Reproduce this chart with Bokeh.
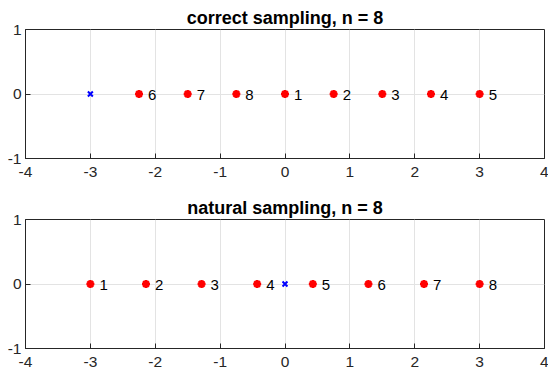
from bokeh.plotting import figure
from bokeh.models import ColumnDataSource, FixedTicker, Range1d
from bokeh.layouts import column
from bokeh.core.properties import value
from bokeh.embed import file_html
from bokeh.resources import INLINE

# ---- data ----
correct_title = "correct sampling, n = 8"
correct_x = [0.0, 0.75, 1.5, 2.25, 3.0, -2.25, -1.5, -0.75]
correct_y = [0, 0, 0, 0, 0, 0, 0, 0]
correct_labels = ["1", "2", "3", "4", "5", "6", "7", "8"]
correct_mark_x = [-3.0]
correct_mark_y = [0]

natural_title = "natural sampling, n = 8"
natural_x = [-3.0, -2.143, -1.286, -0.429, 0.429, 1.286, 2.143, 3.0]
natural_y = [0, 0, 0, 0, 0, 0, 0, 0]
natural_labels = ["1", "2", "3", "4", "5", "6", "7", "8"]
natural_mark_x = [0.0]
natural_mark_y = [0]

x_ticks = [-4, -3, -2, -1, 0, 1, 2, 3, 4]
x_tick_labels = ["-4", "-3", "-2", "-1", "0", "1", "2", "3", "4"]
y_ticks = [-1, 0, 1]
y_tick_labels = ["-1", "0", "1"]

FONT = "Liberation Sans"
AXC = "#262626"
GRID = "#e3e3e3"


def style_axis(ax):
    ax.axis_line_color = AXC
    ax.axis_line_width = 1
    ax.major_tick_line_color = AXC
    ax.major_tick_in = 5
    ax.major_tick_out = 0
    ax.minor_tick_line_color = None
    ax.major_label_text_font = FONT
    ax.major_label_text_color = AXC
    ax.major_label_text_font_size = "15.5px"


def make(title, xs, ys, labels, mx, my, height, border_bottom):
    p = figure(width=548, height=height,
               x_range=Range1d(-4, 4), y_range=Range1d(-1, 1),
               output_backend="svg", toolbar_location=None,
               min_border_left=25, min_border_right=4,
               min_border_top=29, min_border_bottom=border_bottom)
    p.title.text = title
    p.title.align = "center"
    p.title.text_font = FONT
    p.title.text_font_size = "18px"
    p.title.text_font_style = "bold"
    p.title.text_color = "black"
    p.title.standoff = 3
    p.outline_line_color = AXC

    p.xaxis.ticker = FixedTicker(ticks=x_ticks)
    p.yaxis.ticker = FixedTicker(ticks=y_ticks)
    p.xaxis.major_label_overrides = dict(zip(x_ticks, x_tick_labels))
    p.yaxis.major_label_overrides = dict(zip(y_ticks, y_tick_labels))
    style_axis(p.xaxis[0])
    style_axis(p.yaxis[0])
    p.xaxis.major_label_standoff = 8
    p.yaxis.major_label_standoff = 4

    p.xgrid.ticker = FixedTicker(ticks=x_ticks)
    p.ygrid.ticker = FixedTicker(ticks=y_ticks)
    p.grid.grid_line_color = GRID
    p.grid.grid_line_width = 1

    src = ColumnDataSource(dict(x=xs, y=ys, label=labels))
    p.scatter(x="x", y="y", source=src, marker="asterisk", size=8,
              line_color="red", line_width=2.5)
    p.text(x="x", y="y", text="label", source=src, x_offset=9, y_offset=1,
           text_baseline="middle", text_align="left",
           text_font=value(FONT), text_font_size=value("15px"),
           text_color="black")
    msrc = ColumnDataSource(dict(x=mx, y=my))
    p.scatter(x="x", y="y", source=msrc, marker="x", size=7,
              line_color="blue", line_width=2)
    return p


p1 = make(correct_title, correct_x, correct_y, correct_labels,
          correct_mark_x, correct_mark_y, 190, 32)
p2 = make(natural_title, natural_x, natural_y, natural_labels,
          natural_mark_x, natural_mark_y, 181, 23)

layout = column(p1, p2, spacing=0)
open("out.html", "w").write(file_html(layout, INLINE))
